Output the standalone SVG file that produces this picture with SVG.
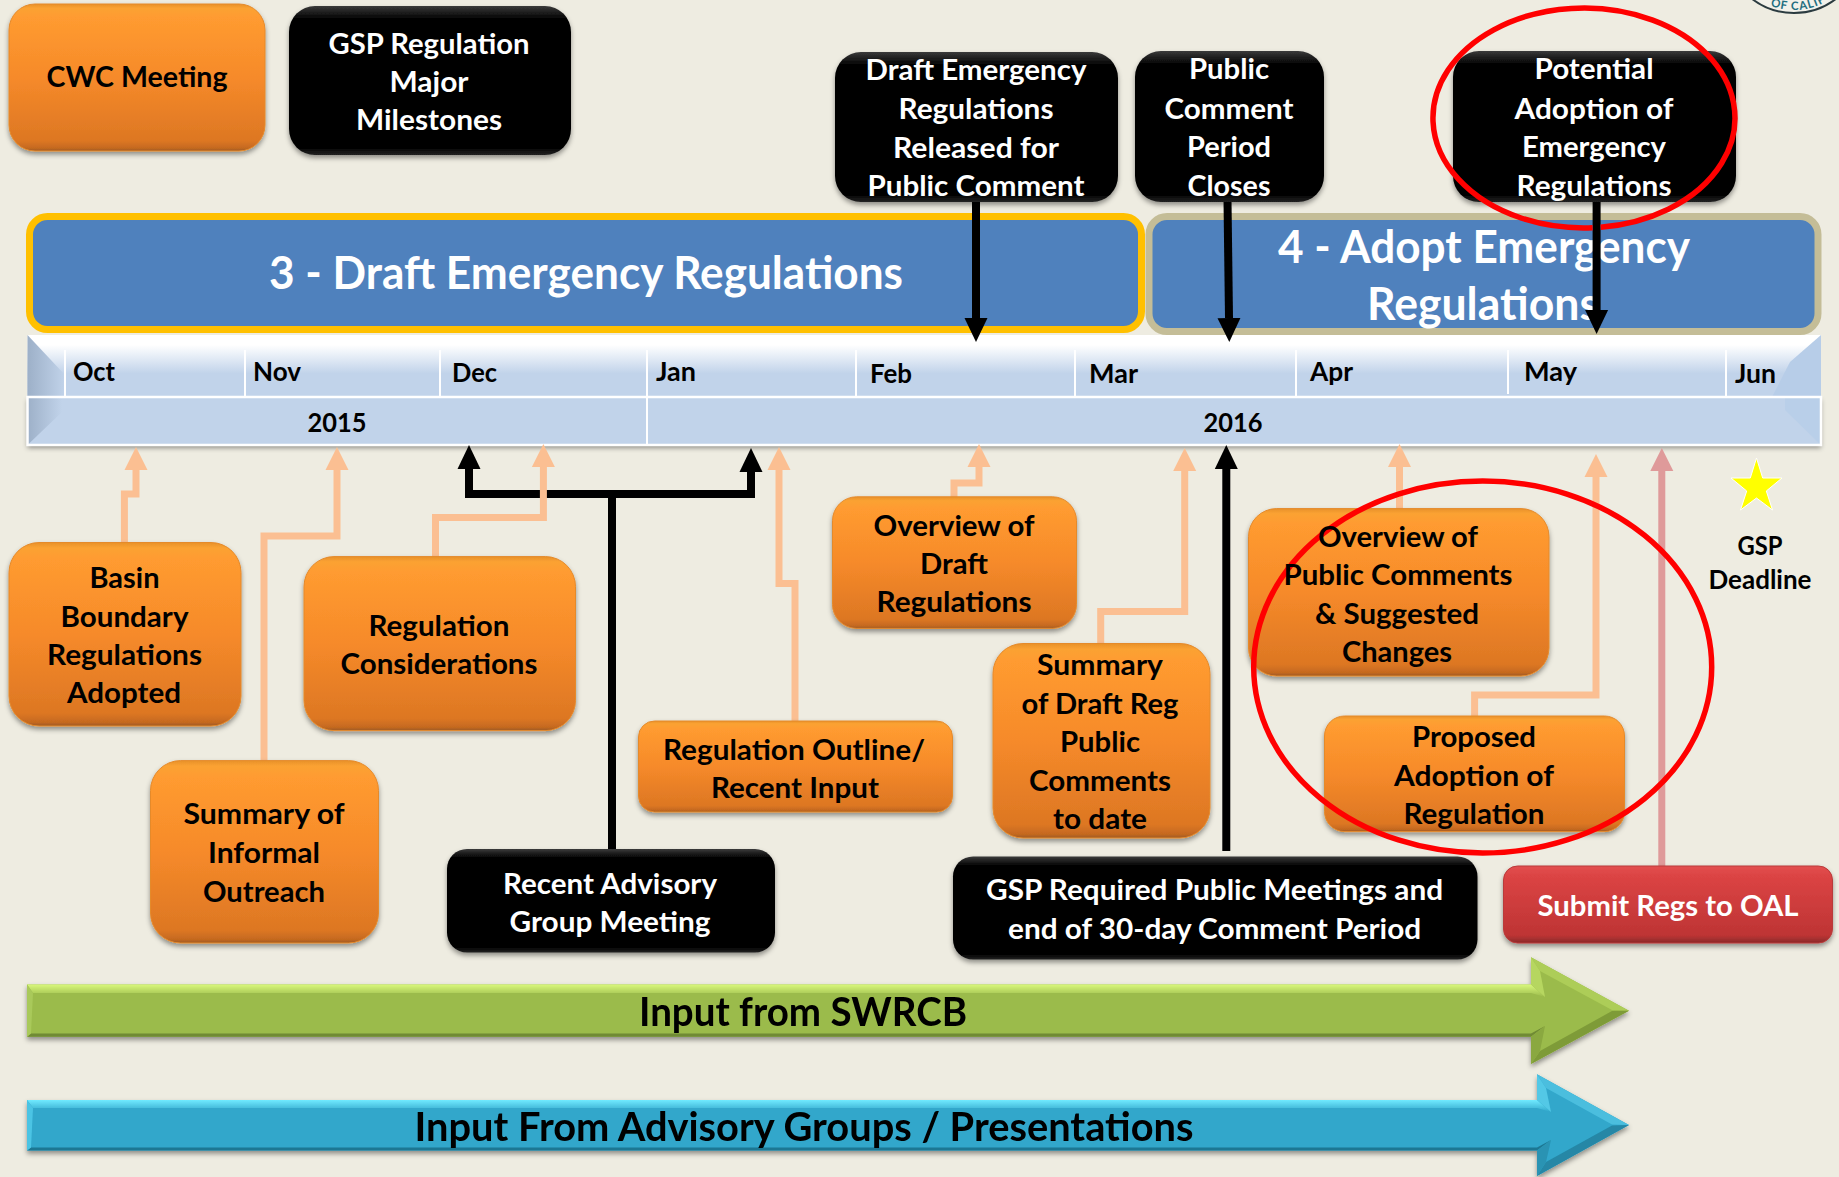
<svg xmlns="http://www.w3.org/2000/svg" width="1839" height="1177" viewBox="0 0 1839 1177">
<style>
text{font-family:"Lato","Carlito","Open Sans","Liberation Sans",sans-serif;font-weight:700;text-anchor:middle;transform:translateY(1px)}
.b{font-size:28.5px;fill:#000}.w{font-size:28.5px;fill:#fff}
.m{font-size:27px;fill:#000;text-anchor:start}.y{font-size:27px;fill:#000}
.h{font-size:46px;fill:#fff}.a{font-size:40px;fill:#000}.d{font-size:26px;fill:#000}
.o{fill:url(#gO);stroke:#E58A2C;stroke-width:1;filter:url(#sh)}
.k{fill:url(#gK);filter:url(#sh)}
.r{fill:url(#gR);stroke:#B93A3A;stroke-width:1;filter:url(#sh)}
.pe{fill:none;stroke:#FBBF92;stroke-width:7}
.bl{fill:none;stroke:#000;stroke-width:8}
.ring{fill:none;stroke:#F00;stroke-width:5.5}
.div{stroke:#fff;stroke-width:2;fill:none}
</style>
<defs>
<filter id="sh" x="-10%" y="-10%" width="120%" height="125%"><feDropShadow dx="0" dy="3" stdDeviation="2.5" flood-color="#000" flood-opacity=".4"/></filter>
<linearGradient id="gO" x1="0" y1="0" x2="0" y2="1"><stop offset="0" stop-color="#E8912A"/><stop offset=".03" stop-color="#FBA232"/><stop offset=".09" stop-color="#FF9B30"/><stop offset=".5" stop-color="#F68A2A"/><stop offset=".93" stop-color="#DD7723"/><stop offset=".98" stop-color="#C5691F"/><stop offset="1" stop-color="#9E5A22"/></linearGradient>
<linearGradient id="gK" x1="0" y1="0" x2="0" y2="1"><stop offset="0" stop-color="#3a3a3a"/><stop offset=".09" stop-color="#000"/><stop offset=".95" stop-color="#000"/><stop offset="1" stop-color="#222"/></linearGradient>
<linearGradient id="gR" x1="0" y1="0" x2="0" y2="1"><stop offset="0" stop-color="#E35050"/><stop offset=".12" stop-color="#DC4444"/><stop offset=".9" stop-color="#BE3434"/><stop offset="1" stop-color="#8A2A2A"/></linearGradient>
<linearGradient id="gT" gradientUnits="userSpaceOnUse" x1="0" y1="335" x2="0" y2="397"><stop offset="0" stop-color="#fff"/><stop offset=".16" stop-color="#fff"/><stop offset=".62" stop-color="#C1D3EA"/><stop offset="1" stop-color="#C1D3EA"/></linearGradient>
<linearGradient id="gL" x1="0" y1="0" x2="1" y2="0"><stop offset="0" stop-color="#9DB0C8"/><stop offset="1" stop-color="#C1D3EA"/></linearGradient>
<linearGradient id="gA" x1="0" y1="0" x2="0" y2="1"><stop offset="0" stop-color="#D9F87C"/><stop offset="1" stop-color="#9BBB4B"/></linearGradient>
<linearGradient id="gB" x1="0" y1="0" x2="0" y2="1"><stop offset="0" stop-color="#70EAFF"/><stop offset="1" stop-color="#31A7CB"/></linearGradient>
<marker id="hP" markerUnits="userSpaceOnUse" markerWidth="23" markerHeight="24" refX="0" refY="12" orient="auto"><path d="M0,0.5 L23,12 L0,23.5 z" fill="#FBBF92"/></marker>
<marker id="hK" markerUnits="userSpaceOnUse" markerWidth="24" markerHeight="24" refX="0" refY="12" orient="auto"><path d="M0,0.5 L24,12 L0,23.5 z" fill="#000"/></marker>
<marker id="hR" markerUnits="userSpaceOnUse" markerWidth="23" markerHeight="24" refX="0" refY="12" orient="auto"><path d="M0,0.5 L23,12 L0,23.5 z" fill="#DF9A9A"/></marker>
</defs>
<rect width="1839" height="1177" fill="#EEECE1"/>

<g id="seal"><circle cx="1794" cy="-56" r="69" fill="#F2F1EA" stroke="#2B3B40" stroke-width="2"/>
<path id="sealArc" d="M1733.6,-32 A65 65 0 0 0 1854.4,-32" fill="none"/>
<text style="font-size:11.5px;fill:#1F6E80;letter-spacing:1px"><textPath href="#sealArc" startOffset="53%">OF CALIF</textPath></text></g>

<g id="phase-3"><rect x="29.5" y="216.5" width="1112" height="113" rx="18" fill="#4F81BD" stroke="#FFC000" stroke-width="7"/>
<text class="h" x="586" y="288" textLength="634" lengthAdjust="spacingAndGlyphs">3 - Draft Emergency Regulations</text></g>
<g id="phase-4"><rect x="1149" y="216.5" width="669" height="115" rx="18" fill="#4F81BD" stroke="#C4BD97" stroke-width="7"/>
<text class="h" x="1484" y="262" textLength="412" lengthAdjust="spacingAndGlyphs">4 - Adopt Emergency</text>
<text class="h" x="1483" y="319" textLength="232" lengthAdjust="spacingAndGlyphs">Regulations</text></g>

<g id="timeline">
<rect x="27.5" y="397" width="1793.5" height="48" fill="#C1D3EA" filter="url(#sh)"/>
<rect x="27.5" y="335" width="1793.5" height="62" fill="url(#gT)"/>
<polygon points="27.5,335 65,375 65,397 27.5,397" fill="url(#gL)"/>
<polygon points="1821,335 1790,362 1772,397 1821,397" fill="#B7CDE8"/>
<polygon points="27.5,397 62,397 62,412 27.5,445" fill="url(#gL)"/>
<polygon points="1821,397 1785,397 1785,410 1821,445" fill="#B9CFE9"/>
<rect x="27.5" y="397" width="1793.5" height="48" class="div" style="stroke-width:2.5"/>
<path class="div" d="M65,350V396M245,350V396M440,350V396M647,350V444M856,350V396M1075,350V396M1296,350V396M1508,350V394M1726,350V396"/>
<text class="m" x="73" y="380" textLength="42" lengthAdjust="spacingAndGlyphs">Oct</text>
<text class="m" x="253" y="380" textLength="48" lengthAdjust="spacingAndGlyphs">Nov</text>
<text class="m" x="452" y="381" textLength="45" lengthAdjust="spacingAndGlyphs">Dec</text>
<text class="m" x="656" y="380" textLength="40" lengthAdjust="spacingAndGlyphs">Jan</text>
<text class="m" x="870" y="382" textLength="42" lengthAdjust="spacingAndGlyphs">Feb</text>
<text class="m" x="1089" y="382" textLength="49" lengthAdjust="spacingAndGlyphs">Mar</text>
<text class="m" x="1310" y="380" textLength="43" lengthAdjust="spacingAndGlyphs">Apr</text>
<text class="m" x="1524" y="380" textLength="53" lengthAdjust="spacingAndGlyphs">May</text>
<text class="m" x="1735" y="382" textLength="41" lengthAdjust="spacingAndGlyphs">Jun</text>
<text class="y" x="337" y="431" textLength="59" lengthAdjust="spacingAndGlyphs">2015</text>
<text class="y" x="1233" y="431" textLength="59" lengthAdjust="spacingAndGlyphs">2016</text>
</g>

<g id="input-swrcb" filter="url(#sh)">
<polygon points="27,984.4 1531,984.4 1531,957.3 1629,1010.7 1531,1064 1531,1036.8 27,1036.8" fill="#9BBB4B"/>
<polygon points="27,984.4 1531,984.4 1545,997 1531,993 33,993" fill="url(#gA)"/>
<polygon points="27,1036.8 1531,1036.8 1545,1026 1531,1033.5 31,1033.5" fill="#6F8A35"/>
<polygon points="27,984.4 33,993 31,1033.5 27,1036.8" fill="#A9C95A"/>
<polygon points="1531,957.3 1629,1010.7 1612,1010 1540,971" fill="#ADCD58"/>
<polygon points="1531,1064 1629,1010.7 1612,1011 1540,1051" fill="#7E9B38"/>
<polygon points="1531,957.3 1540,971 1545,997 1531,984.4" fill="#B6D660"/>
<polygon points="1531,1064 1540,1051 1545,1026 1531,1036.8" fill="#8AA83F"/>
<text class="a" x="803" y="1025" textLength="328" lengthAdjust="spacingAndGlyphs">Input from SWRCB</text>
</g>
<g id="input-advisory" filter="url(#sh)">
<polygon points="27,1100 1537,1100 1537,1074.3 1629,1125 1537,1176 1537,1150.5 27,1150.5" fill="#31A7CB"/>
<polygon points="27,1100 1537,1100 1551,1112 1537,1108 33,1108" fill="url(#gB)"/>
<polygon points="27,1150.5 1537,1150.5 1551,1140 1537,1147.5 31,1147.5" fill="#1F7793"/>
<polygon points="27,1100 33,1108 31,1147.5 27,1150.5" fill="#4CC4E4"/>
<polygon points="1537,1074.3 1629,1125 1612,1124.5 1546,1088" fill="#4BBEDE"/>
<polygon points="1537,1176 1629,1125 1612,1125.5 1546,1162" fill="#2587A6"/>
<polygon points="1537,1074.3 1546,1088 1551,1112 1537,1100" fill="#52C8E6"/>
<polygon points="1537,1176 1546,1162 1551,1140 1537,1150.5" fill="#2A93B3"/>
<text class="a" x="804" y="1140" textLength="779" lengthAdjust="spacingAndGlyphs">Input From Advisory Groups / Presentations</text>
</g>

<g id="connectors">
<path class="bl" d="M612,852V494"/>
<path class="bl" marker-end="url(#hK)" d="M612,494H469V469"/>
<path class="bl" marker-end="url(#hK)" d="M612,494H751V472"/>
<path class="bl" marker-end="url(#hK)" d="M1226.3,851V469"/>
<path class="bl" marker-end="url(#hK)" d="M976,200V318"/>
<path class="bl" marker-end="url(#hK)" d="M1227.5,200L1229,318"/>
<path class="bl" marker-end="url(#hK)" d="M1596.6,200V310"/>
<path class="pe" marker-end="url(#hP)" d="M124.4,544V494H136V470"/>
<path class="pe" marker-end="url(#hP)" d="M264,762V536H337V470"/>
<path class="pe" marker-end="url(#hP)" d="M435.5,562V517.6H543.4V467"/>
<path class="pe" marker-end="url(#hP)" d="M795,723V583.4H779V470"/>
<path class="pe" marker-end="url(#hP)" d="M954,498V483H979V467"/>
<path class="pe" marker-end="url(#hP)" d="M1100.7,645V611.6H1184.7V471"/>
<path class="pe" marker-end="url(#hP)" d="M1399.5,510V467"/>
<path class="pe" marker-end="url(#hP)" d="M1474.6,718V695H1596V477"/>
<path class="pe" style="stroke:#DF9A9A" marker-end="url(#hR)" d="M1661.8,868V471"/>
</g>

<g id="node-cwc"><rect class="o" x="9" y="4" width="256" height="147" rx="26"/>
<text class="b" x="137" y="86" textLength="181" lengthAdjust="spacingAndGlyphs">CWC Meeting</text></g>
<g id="node-gsp-milestones"><rect class="k" x="289" y="6" width="282" height="149" rx="26"/>
<text class="w" x="429" y="53" textLength="201" lengthAdjust="spacingAndGlyphs">GSP Regulation</text>
<text class="w" x="429" y="91" textLength="79" lengthAdjust="spacingAndGlyphs">Major</text>
<text class="w" x="429" y="129" textLength="146" lengthAdjust="spacingAndGlyphs">Milestones</text></g>
<g id="node-draft-released"><rect class="k" x="835" y="52" width="283" height="150" rx="26"/>
<text class="w" x="976" y="79" textLength="221" lengthAdjust="spacingAndGlyphs">Draft Emergency</text>
<text class="w" x="976" y="118" textLength="155" lengthAdjust="spacingAndGlyphs">Regulations</text>
<text class="w" x="976" y="157" textLength="166" lengthAdjust="spacingAndGlyphs">Released for</text>
<text class="w" x="976" y="195" textLength="217" lengthAdjust="spacingAndGlyphs">Public Comment</text></g>
<g id="node-comment-closes"><rect class="k" x="1135" y="51" width="189" height="151" rx="26"/>
<text class="w" x="1229" y="78" textLength="80" lengthAdjust="spacingAndGlyphs">Public</text>
<text class="w" x="1229" y="118" textLength="129" lengthAdjust="spacingAndGlyphs">Comment</text>
<text class="w" x="1229" y="156" textLength="84" lengthAdjust="spacingAndGlyphs">Period</text>
<text class="w" x="1229" y="195" textLength="83" lengthAdjust="spacingAndGlyphs">Closes</text></g>
<g id="node-potential-adoption"><rect class="k" x="1453" y="51" width="283" height="151" rx="26"/>
<text class="w" x="1594" y="78" textLength="119" lengthAdjust="spacingAndGlyphs">Potential</text>
<text class="w" x="1594" y="118" textLength="159" lengthAdjust="spacingAndGlyphs">Adoption of</text>
<text class="w" x="1594" y="156" textLength="144" lengthAdjust="spacingAndGlyphs">Emergency</text>
<text class="w" x="1594" y="195" textLength="155" lengthAdjust="spacingAndGlyphs">Regulations</text></g>

<g id="node-basin"><rect class="o" x="9" y="542.5" width="232" height="183.5" rx="30"/>
<text class="b" x="124.5" y="587" textLength="70" lengthAdjust="spacingAndGlyphs">Basin</text>
<text class="b" x="124.5" y="626" textLength="128" lengthAdjust="spacingAndGlyphs">Boundary</text>
<text class="b" x="124.5" y="664" textLength="155" lengthAdjust="spacingAndGlyphs">Regulations</text>
<text class="b" x="124" y="702" textLength="114" lengthAdjust="spacingAndGlyphs">Adopted</text></g>
<g id="node-considerations"><rect class="o" x="304" y="556.6" width="271.5" height="174" rx="30"/>
<text class="b" x="439" y="635" textLength="141" lengthAdjust="spacingAndGlyphs">Regulation</text>
<text class="b" x="439" y="673" textLength="197" lengthAdjust="spacingAndGlyphs">Considerations</text></g>
<g id="node-informal"><rect class="o" x="150.5" y="760.6" width="228" height="182.4" rx="30"/>
<text class="b" x="264" y="823" textLength="161" lengthAdjust="spacingAndGlyphs">Summary of</text>
<text class="b" x="264" y="862" textLength="112" lengthAdjust="spacingAndGlyphs">Informal</text>
<text class="b" x="264" y="901" textLength="122" lengthAdjust="spacingAndGlyphs">Outreach</text></g>
<g id="node-advisory-meeting"><rect class="k" x="447" y="849" width="328" height="103.5" rx="20"/>
<text class="w" x="610" y="893" textLength="214" lengthAdjust="spacingAndGlyphs">Recent Advisory</text>
<text class="w" x="610" y="931" textLength="201" lengthAdjust="spacingAndGlyphs">Group Meeting</text></g>
<g id="node-outline"><rect class="o" x="638.5" y="721" width="314" height="91" rx="16"/>
<text class="b" x="794" y="759" textLength="262" lengthAdjust="spacingAndGlyphs">Regulation Outline/</text>
<text class="b" x="795" y="797" textLength="168" lengthAdjust="spacingAndGlyphs">Recent Input</text></g>
<g id="node-overview-draft"><rect class="o" x="832.5" y="496.8" width="244" height="131.6" rx="24"/>
<text class="b" x="954" y="535" textLength="161" lengthAdjust="spacingAndGlyphs">Overview of</text>
<text class="b" x="954" y="573" textLength="68" lengthAdjust="spacingAndGlyphs">Draft</text>
<text class="b" x="954" y="611" textLength="155" lengthAdjust="spacingAndGlyphs">Regulations</text></g>
<g id="node-draft-summary"><rect class="o" x="993" y="643.5" width="217" height="194.5" rx="30"/>
<text class="b" x="1100" y="674" textLength="126" lengthAdjust="spacingAndGlyphs">Summary</text>
<text class="b" x="1100" y="713" textLength="157" lengthAdjust="spacingAndGlyphs">of Draft Reg</text>
<text class="b" x="1100" y="751" textLength="80" lengthAdjust="spacingAndGlyphs">Public</text>
<text class="b" x="1100" y="790" textLength="142" lengthAdjust="spacingAndGlyphs">Comments</text>
<text class="b" x="1100" y="828" textLength="94" lengthAdjust="spacingAndGlyphs">to date</text></g>
<g id="node-overview-public"><rect class="o" x="1248.5" y="508.6" width="300.5" height="167.4" rx="28"/></g>
<g id="node-proposed"><rect class="o" x="1324.5" y="716" width="300" height="115.6" rx="20"/>
<text class="b" x="1474" y="746" textLength="124" lengthAdjust="spacingAndGlyphs">Proposed</text>
<text class="b" x="1474" y="785" textLength="160" lengthAdjust="spacingAndGlyphs">Adoption of</text>
<text class="b" x="1474" y="823" textLength="141" lengthAdjust="spacingAndGlyphs">Regulation</text></g>
<g id="node-gsp-meetings"><rect class="k" x="953" y="856.5" width="524.5" height="103" rx="20"/>
<text class="w" x="1214.6" y="899" textLength="457" lengthAdjust="spacingAndGlyphs">GSP Required Public Meetings and</text>
<text class="w" x="1214.6" y="938" textLength="413" lengthAdjust="spacingAndGlyphs">end of 30-day Comment Period</text></g>
<g id="node-oal"><rect class="r" x="1503.5" y="866" width="329" height="77" rx="14"/>
<text class="w" x="1668" y="915" textLength="261" lengthAdjust="spacingAndGlyphs">Submit Regs to OAL</text></g>
<g id="node-deadline"><polygon points="1756.5,458 1762.7,478 1782,478 1766.3,491 1772.5,510 1756.5,498 1740.5,510 1746.7,491 1731,478 1750.3,478" fill="#FFFF00" stroke="#fff" stroke-width="1"/>
<text class="d" x="1760" y="554" textLength="45" lengthAdjust="spacingAndGlyphs">GSP</text>
<text class="d" x="1760" y="588" textLength="103" lengthAdjust="spacingAndGlyphs">Deadline</text></g>

<g id="highlights">
<path class="ring" d="M1600.6,227.33 A151 110 0 1 0 1592.6,227.82"/>
<ellipse class="ring" cx="1482.7" cy="667" rx="229" ry="186"/>
</g>
<g id="node-overview-public-label">
<text class="b" x="1398" y="546" textLength="160" lengthAdjust="spacingAndGlyphs">Overview of</text>
<text class="b" x="1398" y="584" textLength="229" lengthAdjust="spacingAndGlyphs">Public Comments</text>
<text class="b" x="1397" y="622.5" textLength="164" lengthAdjust="spacingAndGlyphs">&amp; Suggested</text>
<text class="b" x="1397" y="661" textLength="110" lengthAdjust="spacingAndGlyphs">Changes</text></g>
</svg>
